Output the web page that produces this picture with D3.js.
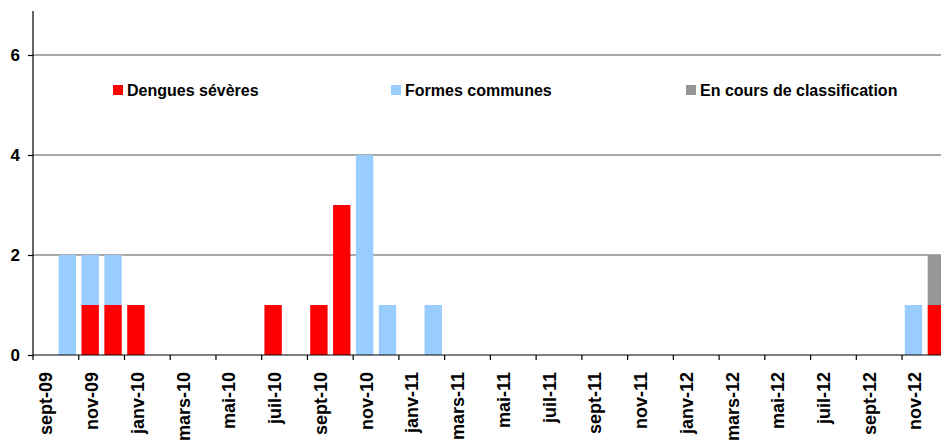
<!DOCTYPE html>
<html><head><meta charset="utf-8">
<script src="https://cdn.jsdelivr.net/npm/d3@7"></script>
<style>body{margin:0;background:#fff}svg{display:block}text{font-family:"Liberation Sans",Arial,sans-serif;font-weight:bold;fill:#000}</style>
</head><body><svg id="c" width="941" height="440"></svg>
<script>
const months = ["sept-09","oct-09","nov-09","déc-09","janv-10","févr-10","mars-10","avr-10","mai-10","juin-10","juil-10","août-10","sept-10","oct-10","nov-10","déc-10","janv-11","févr-11","mars-11","avr-11","mai-11","juin-11","juil-11","août-11","sept-11","oct-11","nov-11","déc-11","janv-12","févr-12","mars-12","avr-12","mai-12","juin-12","juil-12","août-12","sept-12","oct-12","nov-12","déc-12"];
const severes =  [0,0,1,1,1,0,0,0,0,0,1,0,1,3,0,0,0,0,0,0,0,0,0,0,0,0,0,0,0,0,0,0,0,0,0,0,0,0,0,1];
const communes = [0,2,1,1,0,0,0,0,0,0,0,0,0,0,4,1,0,1,0,0,0,0,0,0,0,0,0,0,0,0,0,0,0,0,0,0,0,0,1,0];
const enCours =  [0,0,0,0,0,0,0,0,0,0,0,0,0,0,0,0,0,0,0,0,0,0,0,0,0,0,0,0,0,0,0,0,0,0,0,0,0,0,0,1];
const seriesNames = ["Dengues sévères","Formes communes","En cours de classification"];
const colors = ["#FF0000","#99CCFF","#969696"];
const yTicks = [0,2,4,6];

const svg = d3.select("#c");
const x0 = 33, x1 = 947.8;
const x = d3.scaleBand().domain(months).range([x0, x1]).paddingInner(0.24).paddingOuter(0.12);
const y = d3.scaleLinear().domain([0, 7]).range([355, 5]);

// gridlines
svg.append("g").selectAll("line").data(yTicks.filter(d=>d>0)).join("line")
  .attr("x1",x0).attr("x2",941).attr("y1",d=>y(d)).attr("y2",d=>y(d))
  .attr("stroke","#555").attr("stroke-width",1.2);

// bars
const rows = months.map((m,i)=>({m, s:severes[i], c:communes[i], e:enCours[i]}));
const stack = d3.stack().keys(["s","c","e"])(rows);
svg.append("g").selectAll("g").data(stack).join("g").attr("fill",(d,i)=>colors[i])
  .selectAll("rect").data(d=>d.filter(p=>p[1]>p[0])).join("rect")
  .attr("x",d=>x(d.data.m)).attr("width",x.bandwidth())
  .attr("y",d=>y(d[1])).attr("height",d=>y(d[0])-y(d[1]));

// y axis
const yAxis = svg.append("g").attr("transform",`translate(${x0},0)`)
  .call(d3.axisLeft(y).tickValues(yTicks).tickSize(5).tickPadding(8).tickFormat(d3.format("d")));
yAxis.select(".domain").remove();
yAxis.append("line").attr("x1",0).attr("x2",0).attr("y1",11).attr("y2",355).attr("stroke","#000").attr("stroke-width",1.2);
yAxis.selectAll(".tick line").attr("stroke","#000").attr("stroke-width",1.2);
yAxis.selectAll(".tick text").attr("font-size",17).attr("font-family","Liberation Sans, Arial, sans-serif").attr("font-weight","bold").attr("fill","#000");

// x axis
const xg = svg.append("g").attr("transform","translate(0,355)");
xg.append("line").attr("x1",x0).attr("x2",941).attr("y1",0).attr("y2",0).attr("stroke","#000").attr("stroke-width",1.2);
const boundaries = d3.range(0, months.length+1, 2).map(i => x0 + i*x.step());
xg.selectAll("line.t").data(boundaries).join("line").attr("class","t")
  .attr("x1",d=>d).attr("x2",d=>d).attr("y1",0).attr("y2",5).attr("stroke","#000").attr("stroke-width",1.2);
const labeled = months.filter((m,i)=>i%2===0);
xg.selectAll("text").data(labeled).join("text")
  .attr("transform",d=>`translate(${x(d)+x.bandwidth()/2+8},17) rotate(-90)`)
  .attr("text-anchor","end").attr("font-size",18).text(d=>d);

// legend
const legX = [113, 391, 686];
const lg = svg.append("g").selectAll("g").data(seriesNames).join("g")
  .attr("transform",(d,i)=>`translate(${legX[i]},85)`);
lg.append("rect").attr("width",10).attr("height",10).attr("fill",(d,i)=>colors[i]);
lg.append("text").attr("x",14).attr("y",10.5).attr("font-size",16).text(d=>d);
</script></body></html>
